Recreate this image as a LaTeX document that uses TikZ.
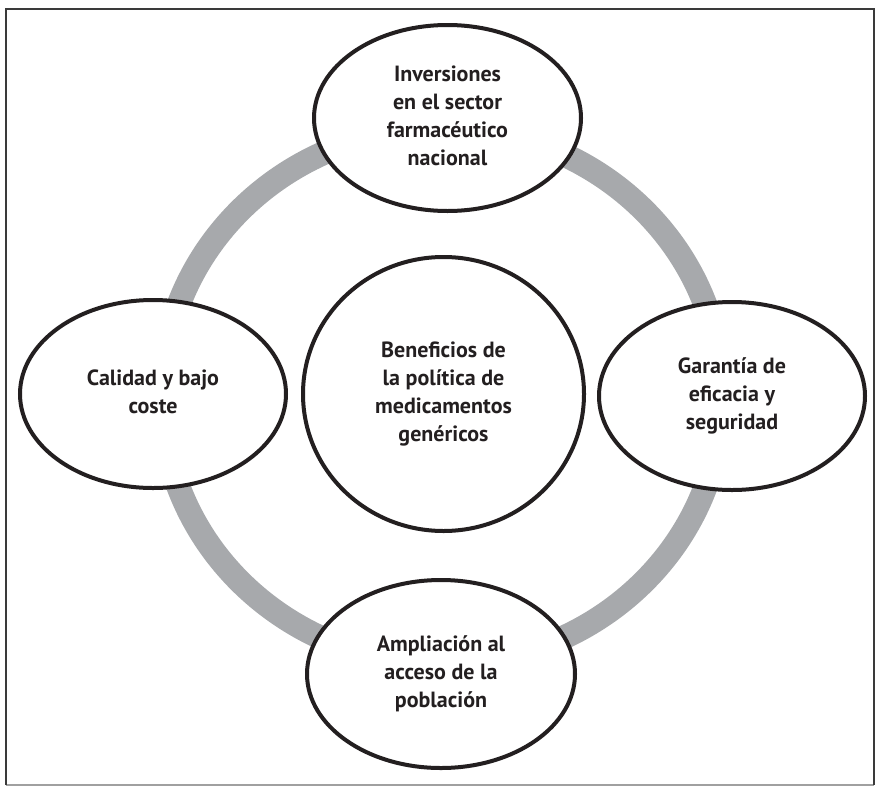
\documentclass[tikz,border=0pt]{standalone}
\usepackage{fontspec}
\setmainfont{PT Sans}
\usetikzlibrary{shapes.geometric}
\definecolor{inkc}{HTML}{231F20}
\definecolor{ringc}{HTML}{A7A9AC}
\definecolor{framec}{HTML}{3A3A3A}
\definecolor{framelc}{HTML}{A0A0A0}
\newcommand{\bubtext}[2]{\raisebox{#1}{\begin{tabular}{@{}c@{}}#2\end{tabular}}}
\tikzset{
  bubble/.style={ellipse, draw=inkc, line width=4pt, fill=white, text=inkc,
    align=center, inner sep=0pt,
    font=\fontsize{22}{27.7}\selectfont\bfseries},
}
\begin{document}
\begin{tikzpicture}[x=1pt,y=-1pt]
\useasboundingbox (0,0) rectangle (877,787);
\coordinate (fa) at (6,785);
\coordinate (fb) at (6,9);
\coordinate (fc) at (874,9);
\coordinate (fd) at (874,785);
\draw[framelc, line width=1.2pt] (fa) -- (fd);
\draw[framec, line width=1.5pt] (fa) -- (fb) -- (fc) -- (fd);
\coordinate (ringc) at (442,396);
\draw[ringc, line width=24pt] (ringc) ellipse [x radius=280pt, y radius=268pt];
\node[bubble, minimum width=281pt, minimum height=274pt] (center) at (443.5,394) {\bubtext{3pt}{Beneficios de\\la política de\\medicamentos\\genéricos}};
\node[bubble, minimum width=267pt, minimum height=186pt] (top) at (447.5,118) {\bubtext{-5pt}{Inversiones\\en el sector\\farmacéutico\\nacional}};
\node[bubble, minimum width=266pt, minimum height=188pt] (left) at (153,394) {\bubtext{0pt}{Calidad y bajo\\coste}};
\node[bubble, minimum width=266pt, minimum height=188pt] (right) at (732,396) {\bubtext{-3pt}{Garantía de\\eficacia y\\seguridad}};
\node[bubble, minimum width=268pt, minimum height=188pt] (bottom) at (441,674) {\bubtext{-4pt}{Ampliación al\\acceso de la\\población}};
\end{tikzpicture}
\end{document}
